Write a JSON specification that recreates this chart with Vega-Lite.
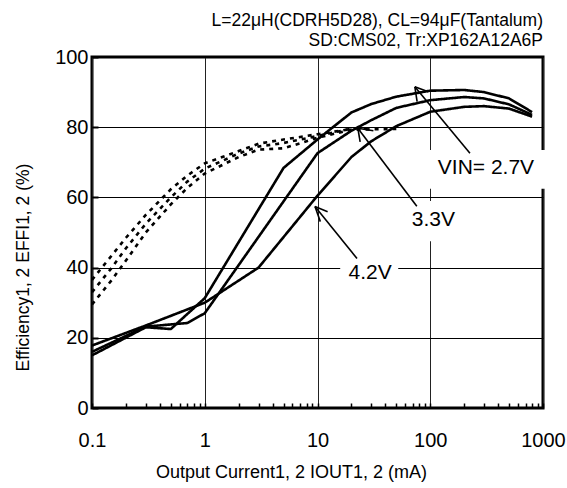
{
  "$schema": "https://vega.github.io/schema/vega-lite/v6.json",
  "width": 451,
  "height": 351,
  "autosize": {"type": "none"},
  "padding": {"left": 92, "top": 57, "right": 24, "bottom": 80},
  "background": "white",
  "config": {
    "font": "Liberation Sans",
    "view": {"stroke": "black", "strokeWidth": 3},
    "axis": {"labelColor": "black", "titleColor": "black", "titleFontWeight": "normal", "labelFont": "Liberation Sans", "titleFont": "Liberation Sans"}
  },
  "title": {
    "text": ["L=22μH(CDRH5D28), CL=94μF(Tantalum)", "SD:CMS02, Tr:XP162A12A6P"],
    "anchor": "end",
    "frame": "group",
    "fontSize": 17.5,
    "fontWeight": "normal",
    "font": "Liberation Sans",
    "lineHeight": 20.6,
    "offset": -3,
    "color": "black"
  },
  "datasets": {
    "boxes": [
      {"x": 88, "x2": 1050, "y": 62.5, "y2": 73.5},
      {"x": 60, "x2": 190, "y": 47.5, "y2": 59},
      {"x": 15.9, "x2": 52, "y": 35, "y2": 42}
    ],
    "curves": [
      {"s": "s27", "k": "solid", "x": 0.1, "y": 15},
      {"s": "s27", "k": "solid", "x": 0.3, "y": 23},
      {"s": "s27", "k": "solid", "x": 0.5, "y": 22.5},
      {"s": "s27", "k": "solid", "x": 1, "y": 31.3},
      {"s": "s27", "k": "solid", "x": 5, "y": 68.4},
      {"s": "s27", "k": "solid", "x": 10, "y": 76.5},
      {"s": "s27", "k": "solid", "x": 20, "y": 84.2},
      {"s": "s27", "k": "solid", "x": 30, "y": 86.6},
      {"s": "s27", "k": "solid", "x": 50, "y": 88.7},
      {"s": "s27", "k": "solid", "x": 100, "y": 90.4},
      {"s": "s27", "k": "solid", "x": 200, "y": 90.6},
      {"s": "s27", "k": "solid", "x": 300, "y": 90},
      {"s": "s27", "k": "solid", "x": 500, "y": 88.2},
      {"s": "s27", "k": "solid", "x": 800, "y": 84.3},
      {"s": "s33", "k": "solid", "x": 0.1, "y": 16},
      {"s": "s33", "k": "solid", "x": 0.3, "y": 23.2},
      {"s": "s33", "k": "solid", "x": 0.7, "y": 24.2},
      {"s": "s33", "k": "solid", "x": 1, "y": 27},
      {"s": "s33", "k": "solid", "x": 10, "y": 72.6},
      {"s": "s33", "k": "solid", "x": 20, "y": 79},
      {"s": "s33", "k": "solid", "x": 30, "y": 82},
      {"s": "s33", "k": "solid", "x": 50, "y": 85.5},
      {"s": "s33", "k": "solid", "x": 100, "y": 87.7},
      {"s": "s33", "k": "solid", "x": 200, "y": 88.6},
      {"s": "s33", "k": "solid", "x": 300, "y": 88.2},
      {"s": "s33", "k": "solid", "x": 500, "y": 86.5},
      {"s": "s33", "k": "solid", "x": 800, "y": 83.5},
      {"s": "s42", "k": "solid", "x": 0.1, "y": 17.8},
      {"s": "s42", "k": "solid", "x": 0.3, "y": 23.5},
      {"s": "s42", "k": "solid", "x": 1, "y": 30},
      {"s": "s42", "k": "solid", "x": 3, "y": 40},
      {"s": "s42", "k": "solid", "x": 10, "y": 60.5},
      {"s": "s42", "k": "solid", "x": 20, "y": 71.5},
      {"s": "s42", "k": "solid", "x": 30, "y": 76},
      {"s": "s42", "k": "solid", "x": 50, "y": 80.3},
      {"s": "s42", "k": "solid", "x": 100, "y": 84.4},
      {"s": "s42", "k": "solid", "x": 200, "y": 85.8},
      {"s": "s42", "k": "solid", "x": 300, "y": 86},
      {"s": "s42", "k": "solid", "x": 500, "y": 85.3},
      {"s": "s42", "k": "solid", "x": 800, "y": 83},
      {"s": "d1", "k": "dash", "x": 0.1, "y": 36.5},
      {"s": "d1", "k": "dash", "x": 0.15, "y": 43.5},
      {"s": "d1", "k": "dash", "x": 0.2, "y": 48.5},
      {"s": "d1", "k": "dash", "x": 0.3, "y": 55},
      {"s": "d1", "k": "dash", "x": 0.5, "y": 62.3},
      {"s": "d1", "k": "dash", "x": 0.7, "y": 66.2},
      {"s": "d1", "k": "dash", "x": 1, "y": 69.7},
      {"s": "d1", "k": "dash", "x": 2, "y": 73.2},
      {"s": "d1", "k": "dash", "x": 3, "y": 75.3},
      {"s": "d1", "k": "dash", "x": 5, "y": 76.5},
      {"s": "d1", "k": "dash", "x": 7, "y": 77.2},
      {"s": "d1", "k": "dash", "x": 10, "y": 78},
      {"s": "d1", "k": "dash", "x": 20, "y": 79.5},
      {"s": "d2", "k": "dash", "x": 0.1, "y": 33},
      {"s": "d2", "k": "dash", "x": 0.15, "y": 40},
      {"s": "d2", "k": "dash", "x": 0.2, "y": 45.5},
      {"s": "d2", "k": "dash", "x": 0.3, "y": 52.5},
      {"s": "d2", "k": "dash", "x": 0.5, "y": 60},
      {"s": "d2", "k": "dash", "x": 0.7, "y": 64.5},
      {"s": "d2", "k": "dash", "x": 1, "y": 68.2},
      {"s": "d2", "k": "dash", "x": 2, "y": 72.5},
      {"s": "d2", "k": "dash", "x": 3, "y": 74.5},
      {"s": "d2", "k": "dash", "x": 5, "y": 75.5},
      {"s": "d2", "k": "dash", "x": 10, "y": 77.5},
      {"s": "d2", "k": "dash", "x": 20, "y": 79.6},
      {"s": "d2", "k": "dash", "x": 30, "y": 79.7},
      {"s": "d3", "k": "dash", "x": 0.1, "y": 29.5},
      {"s": "d3", "k": "dash", "x": 0.15, "y": 36.5},
      {"s": "d3", "k": "dash", "x": 0.2, "y": 42},
      {"s": "d3", "k": "dash", "x": 0.3, "y": 50},
      {"s": "d3", "k": "dash", "x": 0.5, "y": 58},
      {"s": "d3", "k": "dash", "x": 0.7, "y": 62.7},
      {"s": "d3", "k": "dash", "x": 1, "y": 66.8},
      {"s": "d3", "k": "dash", "x": 2, "y": 71.5},
      {"s": "d3", "k": "dash", "x": 3, "y": 73.6},
      {"s": "d3", "k": "dash", "x": 5, "y": 74},
      {"s": "d3", "k": "dash", "x": 7, "y": 75.4},
      {"s": "d3", "k": "dash", "x": 10, "y": 77},
      {"s": "d3", "k": "dash", "x": 20, "y": 79.3},
      {"s": "d3", "k": "dash", "x": 50, "y": 79.5}
    ],
    "arrows": [
      {"a": "a1s", "x": 225, "y": 72.6}, {"a": "a1s", "x": 73, "y": 91.5},
      {"a": "a1h1", "x": 73, "y": 91.5}, {"a": "a1h1", "x": 96, "y": 90.1},
      {"a": "a1h2", "x": 73, "y": 91.5}, {"a": "a1h2", "x": 76.5, "y": 87.3},
      {"a": "a2s", "x": 76, "y": 57.5}, {"a": "a2s", "x": 22.8, "y": 79.7},
      {"a": "a2h1", "x": 22.8, "y": 79.7}, {"a": "a2h1", "x": 31.3, "y": 79},
      {"a": "a2h2", "x": 22.8, "y": 79.7}, {"a": "a2h2", "x": 23.9, "y": 75.8},
      {"a": "a3s", "x": 22.4, "y": 42.6}, {"a": "a3s", "x": 9.5, "y": 57.4},
      {"a": "a3h1", "x": 9.5, "y": 57.4}, {"a": "a3h1", "x": 12.3, "y": 55.9},
      {"a": "a3h2", "x": 9.5, "y": 57.4}, {"a": "a3h2", "x": 10.6, "y": 53.1}
    ],
    "labels": [
      {"t": "VIN= 2.7V", "x": 312, "y": 68.3},
      {"t": "3.3V", "x": 106.7, "y": 53.6},
      {"t": "4.2V", "x": 29.3, "y": 38.6}
    ]
  },
  "layer": [
    {
      "data": {"name": "boxes"},
      "mark": {"type": "rect", "fill": "white", "stroke": null, "clip": false},
      "encoding": {
        "x": {
          "field": "x", "type": "quantitative",
          "scale": {"type": "log", "domain": [0.1, 1000]},
          "axis": {
            "values": [0.1,0.2,0.3,0.4,0.5,0.6,0.7,0.8,0.9,1,2,3,4,5,6,7,8,9,10,20,30,40,50,60,70,80,90,100,200,300,400,500,600,700,800,900,1000],
            "format": "~g",
            "labelExpr": "indexof(['0.1','1','10','100','1000'], datum.label) >= 0 ? datum.label : ''",
            "grid": true,
            "gridColor": "#222",
            "gridWidth": 1,
            "gridOpacity": {"condition": {"test": "indexof([0.1,1,10,100,1000], datum.value) >= 0", "value": 1}, "value": 0},
            "tickSize": -5,
            "tickColor": "black",
            "tickWidth": 1.5,
            "domain": false,
            "labelPadding": 27,
            "labelFontSize": 20,
            "labelOverlap": false,
            "labelFlush": false,
            "labelBound": false,
            "title": "Output Current1, 2  IOUT1, 2 (mA)",
            "titleFontSize": 18,
            "titlePadding": 13,
            "titleX": 199
          }
        },
        "x2": {"field": "x2"},
        "y": {
          "field": "y", "type": "quantitative",
          "scale": {"domain": [0, 100]},
          "axis": {
            "values": [0, 20, 40, 60, 80, 100],
            "grid": true,
            "gridColor": "#000",
            "gridWidth": 1,
            "tickSize": -6,
            "tickColor": "black",
            "tickWidth": 2,
            "domain": false,
            "labelPadding": 10,
            "labelFontSize": 20,
            "title": "Efficiency1, 2  EFFI1, 2  (%)",
            "titleFontSize": 17.5,
            "titlePadding": 22,
            "titleY": 210
          }
        },
        "y2": {"field": "y2"}
      }
    },
    {
      "data": {"name": "curves"},
      "mark": {"type": "line", "color": "black", "strokeWidth": 2.6},
      "encoding": {
        "x": {"field": "x", "type": "quantitative"},
        "y": {"field": "y", "type": "quantitative"},
        "detail": {"field": "s"},
        "strokeDash": {"field": "k", "type": "nominal", "scale": {"domain": ["solid", "dash"], "range": [[1, 0], [4, 5]]}, "legend": null}
      }
    },
    {
      "data": {"name": "arrows"},
      "mark": {"type": "line", "color": "black", "strokeWidth": 1.6},
      "encoding": {
        "x": {"field": "x", "type": "quantitative"},
        "y": {"field": "y", "type": "quantitative"},
        "detail": {"field": "a"}
      }
    },
    {
      "data": {"name": "labels"},
      "mark": {"type": "text", "fontSize": 21, "align": "center", "baseline": "middle", "color": "black", "font": "Liberation Sans"},
      "encoding": {
        "x": {"field": "x", "type": "quantitative"},
        "y": {"field": "y", "type": "quantitative"},
        "text": {"field": "t"}
      }
    }
  ]
}
